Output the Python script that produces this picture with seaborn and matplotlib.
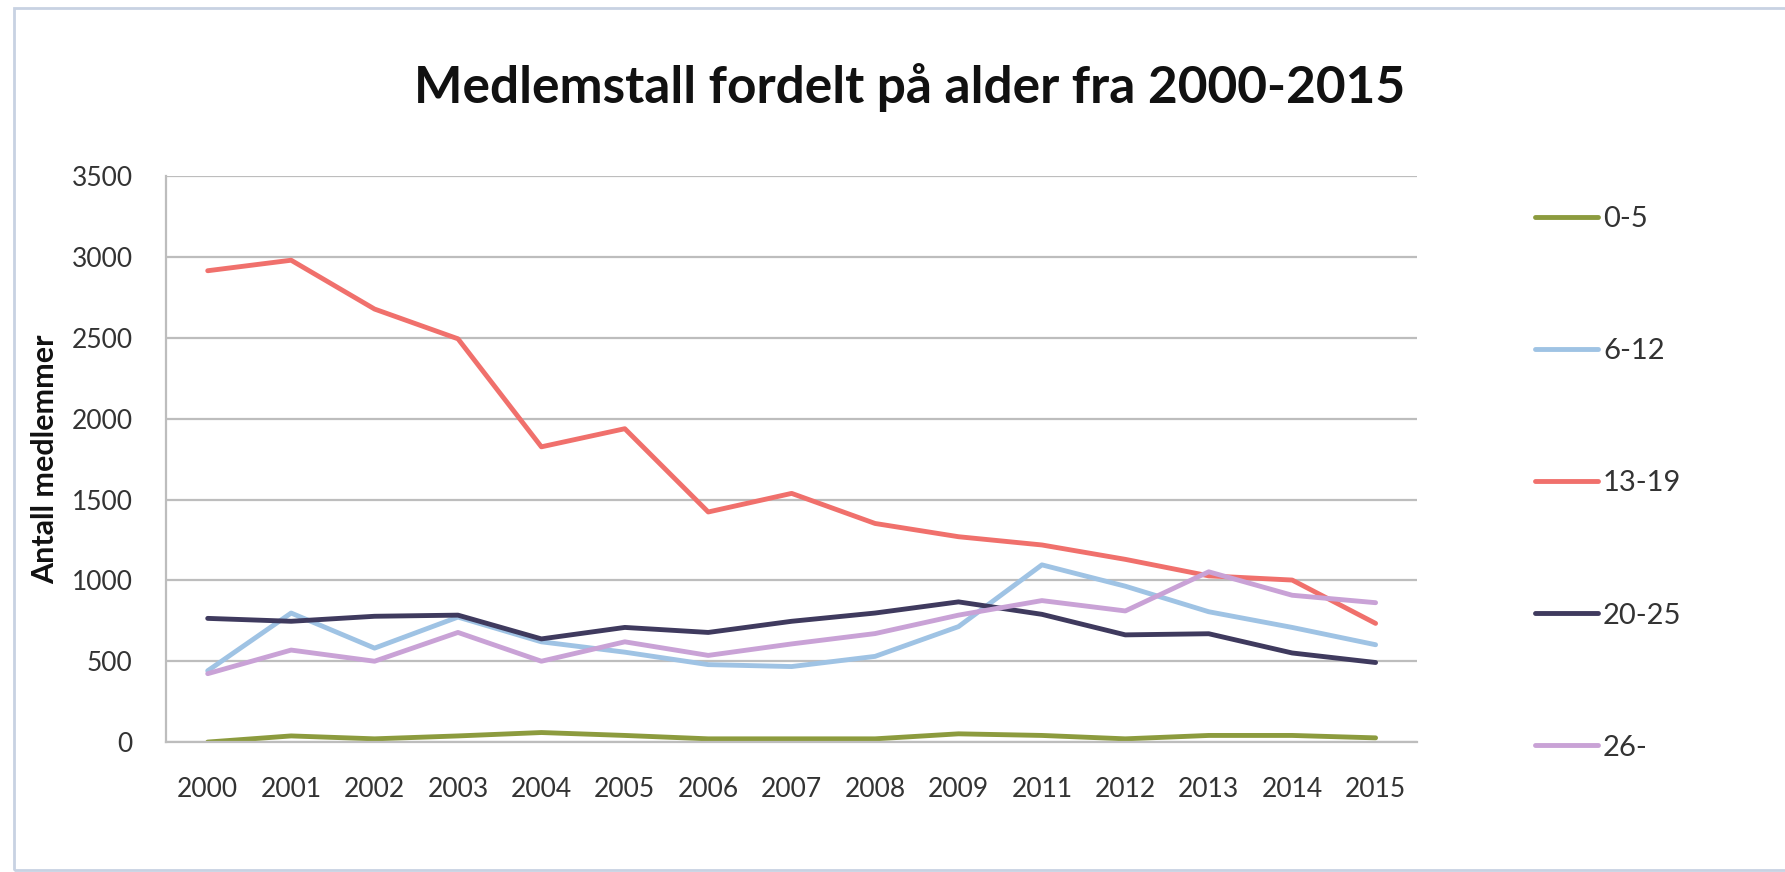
import pandas as pd
import seaborn as sns
import matplotlib.pyplot as plt
from matplotlib.patches import Rectangle

years = ["2000", "2001", "2002", "2003", "2004", "2005", "2006", "2007",
         "2008", "2009", "2011", "2012", "2013", "2014", "2015"]

age_0_5 = [0, 38, 20, 38, 59, 41, 20, 20, 20, 51, 41, 20, 41, 41, 26]
age_6_12 = [441, 798, 581, 773, 620, 556, 479, 467, 530, 714, 1096, 964, 806, 709, 602]
age_13_19 = [2915, 2980, 2678, 2494, 1826, 1938, 1423, 1538, 1352, 1270, 1219, 1130, 1028, 1002, 734]
age_20_25 = [765, 747, 778, 785, 638, 709, 678, 747, 798, 867, 790, 663, 670, 551, 492]
age_26 = [423, 569, 500, 678, 500, 620, 536, 607, 671, 785, 875, 811, 1053, 908, 862]

groups = ["0-5", "6-12", "13-19", "20-25", "26-"]
colors = ["#8c9b3e", "#9fc3e4", "#f0706c", "#3f3a5e", "#c9a2d6"]

df = pd.DataFrame({
    "year": years * 5,
    "members": age_0_5 + age_6_12 + age_13_19 + age_20_25 + age_26,
    "group": [g for g in groups for _ in years],
})

sns.set_style("white")
plt.rcParams["font.family"] = ["Lato", "DejaVu Sans"]

fig = plt.figure(figsize=(17.85, 8.72), dpi=100)
ax = fig.add_axes([0.093, 0.149, 0.701, 0.649])

sns.lineplot(data=df, x="year", y="members", hue="group", hue_order=groups,
             palette=colors, linewidth=3.5, ax=ax, sort=False)

ax.set_xlim(-0.5, len(years) - 0.5)
ax.set_ylim(0, 3500)
ax.set_yticks(range(0, 3501, 500))
ax.yaxis.grid(True, color="#bdbdbd", linewidth=1.6)
ax.set_axisbelow(True)
for side in ["top", "right"]:
    ax.spines[side].set_visible(False)
for side in ["left", "bottom"]:
    ax.spines[side].set_color("#bdbdbd")
    ax.spines[side].set_linewidth(1.6)
ax.tick_params(axis="both", labelsize=19, colors="#333333", length=0)
ax.tick_params(axis="x", pad=25)
ax.tick_params(axis="y", pad=24)
ax.set_xlabel("")
ax.set_ylabel("Antall medlemmer", fontsize=22, fontweight="bold",
              color="#111111", va="center")
ax.yaxis.set_label_coords(-0.0967, 0.5)

fig.text(0.5095, 1 - 103 / 872, "Medlemstall fordelt på alder fra 2000-2015",
         ha="center", va="baseline", fontsize=37, fontweight="bold",
         color="#111111")

leg = ax.legend(loc="upper left", bbox_to_anchor=(1535 / 1785, 1 - 206 / 872),
                bbox_transform=fig.transFigure, frameon=False,
                fontsize=21, labelspacing=3.64, handlelength=2.16,
                handletextpad=0.17, borderpad=0, borderaxespad=0)
for line in leg.get_lines():
    line.set_linewidth(3.5)
for txt in leg.get_texts():
    txt.set_color("#333333")

fig.patches.append(Rectangle((14 / 1785, 2 / 872), 1.2, 862 / 872,
                             transform=fig.transFigure, fill=False,
                             edgecolor="#c8d2e2", linewidth=2))

fig.savefig("out.png", dpi=100)
